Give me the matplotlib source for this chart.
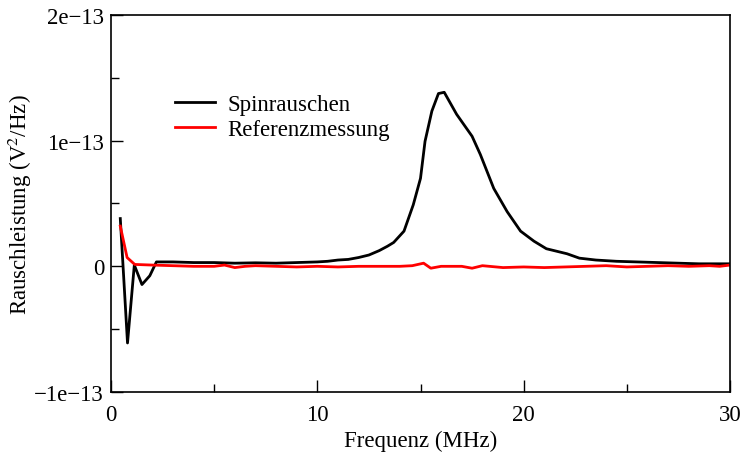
import numpy as np
from matplotlib import pyplot as plt
from matplotlib.ticker import MultipleLocator

plt.rcParams['font.family'] = ['Liberation Serif', 'DejaVu Serif']
plt.rcParams['mathtext.fontset'] = 'stix'

# Spinrauschen (black)
f_spin = [0.45, 0.8, 1.13, 1.5, 1.88, 2.2, 3, 4, 5, 6, 7, 8, 9, 10, 10.5, 11, 11.5,
          12, 12.5, 13.0, 13.4, 13.7, 14.2, 14.65, 15.0, 15.22, 15.55, 15.87, 16.15,
          16.75, 17.5, 17.9, 18.55, 19.2, 19.85, 20.5, 21.1, 22.1, 22.7, 23.5, 24.5,
          25.5, 26.5, 27.5, 28.5, 29.5, 30]
p_spin = [0.38, -0.61, 0.01, -0.145, -0.075, 0.035, 0.035, 0.03, 0.03, 0.025, 0.028,
          0.025, 0.03, 0.035, 0.04, 0.05, 0.055, 0.07, 0.09, 0.125, 0.16, 0.19, 0.28,
          0.49, 0.70, 0.995, 1.235, 1.375, 1.385, 1.21, 1.035, 0.89, 0.62, 0.435, 0.28,
          0.2, 0.14, 0.1, 0.065, 0.05, 0.04, 0.035, 0.03, 0.025, 0.02, 0.02, 0.02]

# Referenzmessung (red)
f_ref = [0.45, 0.78, 1.15, 2, 3, 4, 5, 5.5, 6, 6.5, 7, 8, 9, 10, 11, 12, 13, 14, 14.6,
         15.15, 15.5, 16, 17, 17.5, 18, 19, 20, 21, 22, 23, 24, 25, 26, 27, 28, 29,
         29.5, 30]
p_ref = [0.32, 0.07, 0.015, 0.01, 0.005, 0, 0, 0.01, -0.01, 0, 0.005, 0, -0.005, 0,
         -0.005, 0, 0, 0, 0.005, 0.025, -0.015, 0, 0, -0.015, 0.005, -0.01, -0.005,
         -0.01, -0.005, 0, 0.005, -0.005, 0, 0.005, 0, 0.005, 0, 0.01]

scale = 1e-13
ytick_vals = [-1e-13, 0, 1e-13, 2e-13]
ytick_labels = ['\u22121e\u221213', '0', '1e\u221213', '2e\u221213']

fig = plt.figure(figsize=(7.43, 4.6), dpi=100)
ax = fig.add_axes([0.1494, 0.1457, 0.8331, 0.8195])

ax.plot(f_spin, np.array(p_spin) * scale, color='black', lw=2, label='Spinrauschen')
ax.plot(f_ref, np.array(p_ref) * scale, color='#ff0000', lw=2, label='Referenzmessung')

ax.set_xlim(0, 30)
ax.set_ylim(-1e-13, 2e-13)
ax.set_xticks([0, 10, 20, 30])
ax.set_xticklabels(['0', '10', '20', '30'])
ax.xaxis.set_minor_locator(MultipleLocator(5))
ax.set_yticks(ytick_vals)
ax.set_yticklabels(ytick_labels)
ax.yaxis.set_minor_locator(MultipleLocator(0.5e-13))
ax.tick_params(which='both', direction='in', labelsize=16.5, width=1)
ax.tick_params(which='major', length=8.5)
ax.tick_params(which='minor', length=5.5)
ax.tick_params(top=False, right=False, which='both')
ax.tick_params(axis='x', pad=9)
ax.tick_params(axis='y', pad=5)
for s in ax.spines.values():
    s.set_linewidth(1.2)

ax.set_xlabel('Frequenz (MHz)', fontsize=16.5, labelpad=3)
ax.set_ylabel('Rauschleistung (V$^2$/Hz)', fontsize=16.5, labelpad=0)

ax.legend(loc='upper left', bbox_to_anchor=(0.085, 0.82), frameon=False, fontsize=16.5,
          handlelength=1.75, handletextpad=0.55, labelspacing=0.15, borderpad=0)

fig.savefig('out.png', dpi=100)
